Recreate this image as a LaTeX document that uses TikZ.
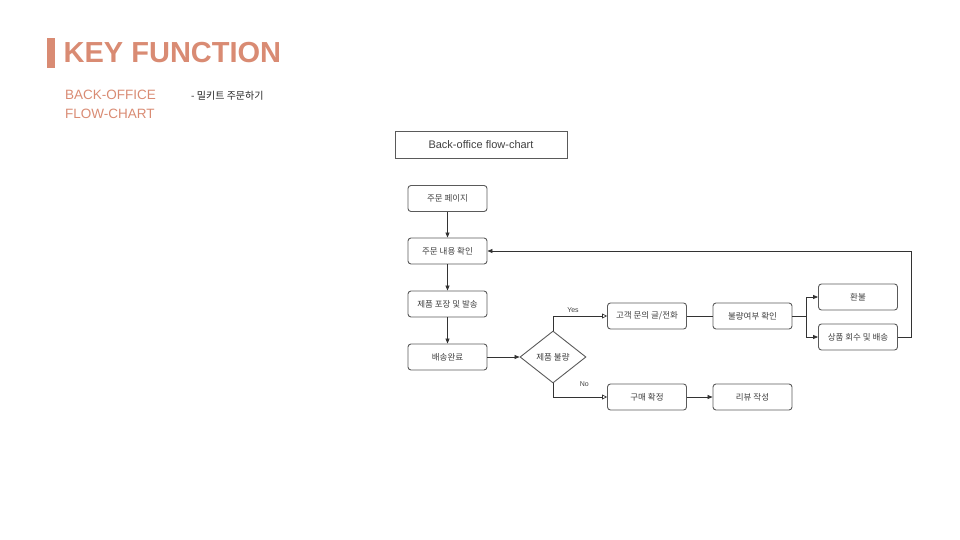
\documentclass[tikz,border=0pt]{standalone}
\usepackage{fontspec}
\setmainfont{Liberation Sans}
\newfontfamily\kr{Noto Sans CJK KR}
\usetikzlibrary{arrows.meta,shapes.geometric}
\definecolor{accent}{HTML}{D98B73}
\definecolor{edge}{HTML}{5A5A5A}
\definecolor{wire}{HTML}{333333}
\begin{document}
\begin{tikzpicture}[x=1pt,y=-1pt,
  procbox/.style={draw=edge,line width=0.9pt,rounded corners=3pt,minimum width=79pt,minimum height=26pt,inner sep=0pt,font=\kr\fontsize{8.5}{10}\selectfont,text=black!75},
  decision/.style={draw=edge,line width=0.9pt,diamond,aspect=1.27,minimum width=66pt,minimum height=52pt,inner sep=0pt,font=\kr\fontsize{8.5}{10}\selectfont,text=black!75},
  flow/.style={draw=wire,line width=0.7pt,-{Triangle[length=5pt,width=4pt]}},
  openflow/.style={draw=wire,line width=0.7pt,-{Triangle[open,length=5pt,width=5pt]}},
  plain/.style={draw=wire,line width=0.7pt},
  lbl/.style={font=\fontsize{7}{8}\selectfont,text=black!75}
]
\useasboundingbox (0,0) rectangle (960,540);

% heading
\fill[accent] (47,38) rectangle (55,68);
\node[anchor=west,inner sep=0pt,text=accent,font=\bfseries\fontsize{29}{32}\selectfont] (title) at (63.5,53) {KEY FUNCTION};
\node[anchor=north west,inner sep=0pt,text=accent,font=\fontsize{13.5}{18.5}\selectfont,align=left] (sub) at (65,90) {BACK-OFFICE\\FLOW-CHART};
\node[anchor=west,inner sep=0pt,font=\kr\fontsize{10}{11}\selectfont,text=black!85] (note) at (191,96) {- 밀키트 주문하기};

% chart caption
\node[draw=edge,line width=0.9pt,minimum width=172pt,minimum height=27pt,inner sep=0pt,font=\fontsize{11}{13}\selectfont,text=black!75] (cap) at (481,144.5) {Back-office flow-chart};

% nodes
\node[procbox] (page) at (447.5,198.5) {주문 페이지};
\node[procbox] (check) at (447.5,251) {주문 내용 확인};
\node[procbox] (pack) at (447.5,304) {제품 포장 및 발송};
\node[procbox] (done) at (447.5,357) {배송완료};
\node[decision] (bad) at (553,357) {제품 불량};
\node[procbox] (ask) at (647,316) {고객 문의 글/전화};
\node[procbox] (buy) at (647,397) {구매 확정};
\node[procbox] (verify) at (752.5,316) {불량여부 확인};
\node[procbox] (refund) at (858,297) {환불};
\node[procbox] (resend) at (858,337) {상품 회수 및 배송};
\node[procbox] (review) at (752.5,397) {리뷰 작성};

% connectors
\draw[flow] (page) -- (check);
\draw[flow] (check) -- (pack);
\draw[flow] (pack) -- (done);
\draw[flow] (done) -- (bad);
\draw[openflow] (bad.north) |- (ask.west) node[lbl,pos=0.685,above=0pt] {Yes};
\draw[openflow] (bad.south) |- (buy.west) node[lbl,pos=0.79,above=7pt] {No};
\draw[plain] (ask) -- (verify);
\coordinate (split) at (806,316);
\draw[plain] (verify.east) -- (split);
\draw[flow] (split) |- (refund.west);
\draw[flow] (split) |- (resend.west);
\coordinate (loop) at (911,337);
\draw[flow] (resend.east) -- (loop) |- (check.east);
\draw[flow] (buy) -- (review);
\end{tikzpicture}
\end{document}
